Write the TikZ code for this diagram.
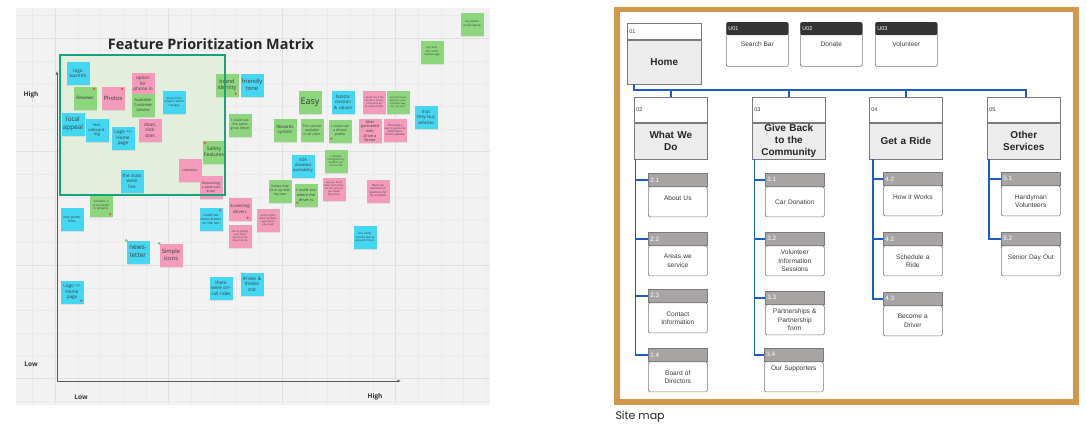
\documentclass[tikz,border=0pt]{standalone}
\usepackage{fontspec}
\setmainfont{Open Sans}
\newfontfamily\mapfont{Liberation Sans}
\newfontfamily\capfont{Poppins}
\usetikzlibrary{arrows.meta,shadows}

\definecolor{boardbg}{HTML}{F2F2F2}
\definecolor{gridminor}{HTML}{EAEAEA}
\definecolor{gridmajor}{HTML}{E0E0E0}
\definecolor{framegreen}{HTML}{17A37D}
\definecolor{framefill}{HTML}{E4EEDC}
\definecolor{stickyblue}{HTML}{45D6F2}
\definecolor{stickygreen}{HTML}{8ED67E}
\definecolor{stickypink}{HTML}{F49BBB}
\definecolor{dotred}{HTML}{F0463C}
\definecolor{dotgreen}{HTML}{7ACC6A}
\definecolor{maporange}{HTML}{D4974E}
\definecolor{mapblue}{HTML}{1C5CC4}
\definecolor{boxline}{HTML}{7A7A7A}
\definecolor{pagefill}{HTML}{ECECEC}
\definecolor{subhead}{HTML}{A9A4A4}
\definecolor{utilhead}{HTML}{333333}
\definecolor{inktext}{HTML}{3A3A3A}

\tikzset{
  note/.style={fill=#1, minimum width=23pt, minimum height=23pt, inner sep=1pt,
    text width=21pt, align=center, text=inktext,
    font=\fontsize{4.6}{5.4}\selectfont,
    drop shadow={opacity=.18, shadow xshift=.3pt, shadow yshift=-1pt}},
  bignote/.style={note=#1, font=\fontsize{6.4}{7.6}\selectfont},
  smallnote/.style={note=#1, font=\fontsize{3.4}{4.1}\selectfont},
  tinynote/.style={note=#1, font=\fontsize{2.5}{3.1}\selectfont},
  reddot/.style={fill=dotred},
  greendot/.style={fill=dotgreen},
  axis/.style={draw=black!65, line width=.8pt},
  axislabel/.style={font=\bfseries\fontsize{6.5}{7}\selectfont, text=black!80},
  pagehead/.style={anchor=north west, draw=boxline, fill=white, line width=.6pt,
    minimum width=#1, text width=#1-4pt, inner xsep=2pt, align=left,
    font=\mapfont\fontsize{5.5}{6}\selectfont, text=inktext},
  pagebody/.style={anchor=north, draw=boxline, fill=pagefill, line width=.6pt,
    minimum width=#1, text width=#1-4pt, inner xsep=2pt, align=center,
    font=\mapfont\bfseries\fontsize{10}{12.3}\selectfont, text=black!85},
  subhead/.style={anchor=north west, draw=boxline, fill=subhead, line width=.6pt,
    minimum width=59pt, minimum height=13pt, text width=55pt, inner xsep=2pt,
    align=left, font=\mapfont\fontsize{6.3}{7}\selectfont, text=white},
  subbody/.style={anchor=north, draw=boxline, fill=white, line width=.6pt,
    rounded corners=1.5pt, minimum width=59pt, minimum height=30pt,
    text width=55pt, inner xsep=2pt, align=center,
    font=\mapfont\fontsize{6.6}{8.3}\selectfont, text=inktext},
  utilbody/.style={anchor=north west, draw=boxline, fill=white, line width=.7pt,
    rounded corners=2pt, minimum width=62pt, minimum height=44pt,
    font=\mapfont\fontsize{6.6}{8}\selectfont, text=inktext},
  utilhead/.style={anchor=north, fill=utilhead, rounded corners=2pt,
    minimum width=62pt, minimum height=13pt, text width=58pt, inner xsep=2pt,
    align=left, font=\mapfont\fontsize{5.5}{6}\selectfont, text=white},
  bus/.style={draw=mapblue, line width=2.2pt},
  trunk/.style={draw=mapblue, line width=1.6pt},
}

\begin{document}
\begin{tikzpicture}[x=1pt, y=-1pt]
  \useasboundingbox (0,0) rectangle (1087,437);

  % Board and grid
  \fill[boardbg] (16,8) rectangle (490,405);
  \foreach \i in {0,...,20}
    \draw[gridminor, line width=.4pt] ({32.3+22.7*\i},8) -- ({32.3+22.7*\i},405);
  \foreach \i in {0,...,17}
    \draw[gridminor, line width=.4pt] (16,{15.3+22.7*\i}) -- (490,{15.3+22.7*\i});
  \foreach \x in {55,168.5,282,395.5}
    \draw[gridmajor, line width=.6pt] (\x,8) -- (\x,405);
  \foreach \y in {38,151.5,265,378.5}
    \draw[gridmajor, line width=.6pt] (16,\y) -- (490,\y);

  % Title
  \node[font=\bfseries\fontsize{14.4}{16}\selectfont, text=black!85] (title) at (211,44) {Feature Prioritization Matrix};

  % Axes
  \coordinate (o) at (57,381);
  \coordinate (ytop) at (57,71);
  \coordinate (xend) at (401,381);
  \draw[axis, -{Latex[length=3.5pt,width=3pt]}] (o) -- (ytop);
  \draw[axis, -{Latex[length=3.5pt,width=3pt]}] (o) -- (xend);
  \node[axislabel] (yhigh) at (31,95) {High};
  \node[axislabel] (ylow) at (31,364) {Low};
  \node[axislabel] (xlow) at (81,397) {Low};
  \node[axislabel] (xhigh) at (375,397) {High};

  % Priority frame
  \fill[framefill] (60,55) rectangle (225,195);

  % Sticky notes
  \node[note=stickyblue] (n1) at (78,73) {logo\\warmth};
  \node[note=stickygreen] (n2) at (85,98) {Reviews};
  \node[bignote=stickypink, font=\fontsize{5.8}{7}\selectfont] (n3) at (113,98) {Photos};
  \node[note=stickypink] (n4) at (143,84) {option\\for\\phone in};
  \node[note=stickygreen, font=\fontsize{4}{4.9}\selectfont] (n5) at (143,105) {Available\\Customer\\Service};
  \node[tinynote=stickyblue, font=\fontsize{2.9}{3.5}\selectfont] (n6) at (174,102) {issues from rotation whilst changes};
  \node[bignote=stickyblue] (n7) at (73,124) {local\\appeal};
  \node[note=stickyblue, font=\fontsize{4}{4.9}\selectfont] (n8) at (97,130) {less\\onboard-\\ing};
  \node[note=stickyblue] (n9) at (123,138) {Logo =>\\Home\\page};
  \node[note=stickypink] (n10) at (150,130) {clean,\\slick\\sites};
  \node[note=stickygreen, font=\fontsize{5.4}{6.6}\selectfont] (n11) at (227,85) {brand\\identity};
  \node[note=stickyblue, font=\fontsize{5.8}{7}\selectfont] (n12) at (252,85) {friendly\\tone};
  \node[smallnote=stickygreen] (n13) at (240,125) {I could see the same great driver};
  \node[note=stickygreen, font=\fontsize{5}{6.2}\selectfont] (n14) at (214,152) {Safety\\Features};
  \node[smallnote=stickypink] (n15) at (190,170) {retention};
  \node[smallnote=stickypink] (n16) at (211,187) {Requesting a particular driver};
  \node[note=stickyblue] (n17) at (132,181) {the stats\\were\\live};
  \node[tinynote=stickygreen, font=\fontsize{2.9}{3.5}\selectfont] (n18) at (101,205) {Schedule a drive weeks in advance};
  \node[smallnote=stickyblue] (n19) at (72,219) {user guidelines};
  \node[bignote=stickyblue] (n20) at (138,252) {news-\\letter};
  \node[bignote=stickypink, font=\fontsize{5.8}{7.2}\selectfont] (n21) at (171,255) {Simple\\icons};
  \node[note=stickyblue] (n22) at (72,292) {Logo =>\\Home\\page};
  \node[note=stickyblue] (n23) at (221,288) {there\\were on-\\call rides};
  \node[note=stickyblue] (n24) at (252,284) {\#rides \&\\\#miles\\stat};
  \node[smallnote=stickyblue] (n25) at (211,219) {could see more drivers on the site};
  \node[note=stickypink, font=\fontsize{4.3}{5.3}\selectfont] (n26) at (240,209) {Screening\\drivers};
  \node[tinynote=stickypink] (n27) at (240,236) {link at getting your base record of the drive history};
  \node[tinynote=stickypink] (n28) at (268,220) {as the region driver provides a get driver you need};
  \node[smallnote=stickygreen] (n29) at (280,191) {Values that fit in up with my own};
  \node[note=stickygreen, font=\fontsize{3.8}{4.7}\selectfont] (n30) at (306,195) {I could see where the driver is};
  \node[tinynote=stickypink] (n31) at (334,189) {see you could have full history on the services just when they drove};
  \node[tinynote=stickypink, font=\fontsize{2.8}{3.4}\selectfont] (n32) at (378,191) {Here's an overview of questions for my situation};
  \node[tinynote=stickyblue, font=\fontsize{2.9}{3.6}\selectfont] (n33) at (365,237) {the same service was at around hours};
  \node[note=stickyblue, font=\fontsize{4}{5}\selectfont] (n34) at (303,166) {ADA\\disabled\\availability};
  \node[tinynote=stickygreen, font=\fontsize{2.7}{3.3}\selectfont] (n35) at (336,161) {I already recognise my auntie's car on her list};
  \node[bignote=stickygreen, font=\fontsize{9}{10}\selectfont] (n36) at (310,102) {Easy};
  \node[note=stickyblue, font=\fontsize{4.4}{5.4}\selectfont] (n37) at (343,102) {holistic\\mission\\\& values};
  \node[tinynote=stickypink] (n38) at (374,102) {I could see if my auntie is being contacted by an actual driver};
  \node[tinynote=stickygreen] (n39) at (398,102) {see if it's been used in a sustainable way for my aunt};
  \node[note=stickyblue, font=\fontsize{4.4}{5.4}\selectfont] (n40) at (426,117) {that\\they buy\\vehicles};
  \node[note=stickygreen, font=\fontsize{4.4}{5.4}\selectfont] (n41) at (285,130) {Rewards\\system};
  \node[smallnote=stickygreen] (n42) at (312,130) {This service available in all cities};
  \node[smallnote=stickygreen] (n43) at (340,131) {I could see a drivers profile};
  \node[note=stickypink, font=\fontsize{3.8}{4.7}\selectfont] (n44) at (370,131) {Uber\\partnered\\with Drive a\\Senior};
  \node[tinynote=stickypink, font=\fontsize{2.7}{3.3}\selectfont] (n45) at (395,130) {There was a way to get more information on the website};
  \node[tinynote=stickygreen, font=\fontsize{2.9}{3.5}\selectfont] (n46) at (472,24) {my auntie could signup};
  \node[tinynote=stickygreen, font=\fontsize{2.9}{3.5}\selectfont] (n47) at (432,52) {my auntie could receive age};

  % Votes
  \fill[reddot] ([shift={(-2.5,2.5)}]n2.north east) circle (1.2pt);
  \fill[reddot] ([shift={(-2.5,2.5)}]n3.north east) circle (1.2pt);
  \fill[reddot] ([shift={(-3,-3)}]n11.south east) circle (1.2pt);
  \fill[reddot] ([shift={(2.5,2.5)}]n14.north west) circle (1.2pt);
  \fill[reddot] ([shift={(-2.5,-2.5)}]n18.south east) circle (1.2pt);
  \fill[reddot] ([shift={(-2.5,-3)}]n22.south east) circle (1.2pt);
  \fill[reddot] ([shift={(-2.5,3)}]n25.north east) circle (1.2pt);
  \fill[reddot] ([shift={(-4,-3)}]n26.south east) circle (1.2pt);
  \fill[reddot] ([shift={(3,-4)}]n30.south west) circle (1.2pt);
  \fill[reddot] ([shift={(3,-4)}]n43.south west) circle (1.2pt);
  \fill[greendot] (n20.north west) circle (1.5pt);
  \fill[greendot] (n21.north west) circle (1.5pt);

  \draw[framegreen, line width=2.8pt] (60,55) rectangle (225,195);

  % Site map
  \draw[maporange, line width=5.5pt] (617,9.5) rectangle (1076,402);

  % Home and utility pages
  \node[pagehead=74pt, minimum height=16pt] (homeh) at (627,23) {01};
  \node[pagebody=74pt, minimum height=44pt] (home) at (homeh.south) {Home};
  \node[utilbody] (u1b) at (726,22) {\\[5pt]Search Bar};
  \node[utilhead] (u1) at (u1b.north) {U01};
  \node[utilbody] (u2b) at (800,22) {\\[5pt]Donate};
  \node[utilhead] (u2) at (u2b.north) {U02};
  \node[utilbody] (u3b) at (875,22) {\\[10pt]Volunteer};
  \node[utilhead] (u3) at (u3b.north) {U03};

  % Sections
  \node[pagehead=73pt, minimum height=25pt] (s2h) at (634,97) {02};
  \node[pagebody=73pt, minimum height=36pt] (s2) at (s2h.south) {What We\\Do};
  \node[pagehead=73pt, minimum height=25pt] (s3h) at (752,97) {03};
  \node[pagebody=73pt, minimum height=36pt, inner ysep=0pt] (s3) at (s3h.south) {Give Back\\to the\\Community};
  \node[pagehead=73pt, minimum height=25pt] (s4h) at (869,97) {04};
  \node[pagebody=73pt, minimum height=36pt] (s4) at (s4h.south) {Get a Ride};
  \node[pagehead=73pt, minimum height=25pt] (s5h) at (987,97) {05};
  \node[pagebody=73pt, minimum height=36pt] (s5) at (s5h.south) {Other\\Services};

  % Sub pages
  \node[subhead] (p21) at (648,173) {2.1};
  \node[subbody] (b21) at (p21.south) {About Us\\~};
  \node[subhead] (p22) at (648,232) {2.2};
  \node[subbody] (b22) at (p22.south) {Areas we\\service};
  \node[subhead] (p23) at (648,289) {2.3};
  \node[subbody] (b23) at (p23.south) {Contact\\Information};
  \node[subhead] (p24) at (648,348) {2.4};
  \node[subbody] (b24) at (p24.south) {Board of\\Directors};

  \node[subhead] (p31) at (765,173) {3.1};
  \node[subbody] (b31) at (p31.south) {Car Donation};
  \node[subhead] (p32) at (765,232) {3.2};
  \node[subbody] (b32) at (p32.south) {Volunteer\\Information\\Sessions};
  \node[subhead] (p33) at (765,291) {3.3};
  \node[subbody] (b33) at (p33.south) {Partnerships \&\\Partnership\\form};
  \node[subhead] (p34) at (764,348) {3.4};
  \node[subbody] (b34) at (p34.south) {Our Supporters\\~\\~};

  \node[subhead] (p41) at (883,172) {4.2};
  \node[subbody] (b41) at (p41.south) {How it Works\\~};
  \node[subhead] (p42) at (883,232) {4.2};
  \node[subbody] (b42) at (p42.south) {Schedule a\\Ride};
  \node[subhead] (p43) at (883,292) {4.3};
  \node[subbody] (b43) at (p43.south) {Become a\\Driver};

  \node[subhead] (p51) at (1001,172) {5.1};
  \node[subbody] (b51) at (p51.south) {Handyman\\Volunteers};
  \node[subhead] (p52) at (1001,232) {5.2};
  \node[subbody] (b52) at (p52.south) {Senior Day Out\\~};

  % Connectors
  \coordinate (busl) at (634,90);
  \coordinate (busr) at (1026,90);
  \draw[bus] (home.south -| busl) -- (busl) -- (busr) -- (busr |- s5h.north);
  \foreach \s in {s2h,s3h,s4h}
    \draw[bus] (\s.north) -- (\s.north |- busl);
  \foreach \p in {p21,p22,p23,p24}
    \draw[trunk] (s2.south west) ++(1.5,0) |- (\p.west);
  \foreach \p in {p31,p32,p33,p34}
    \draw[trunk] (s3.south west) ++(2.5,0) |- (\p.west);
  \foreach \p in {p41,p42,p43}
    \draw[trunk] (s4.south west) ++(4,0) |- (\p.west);
  \foreach \p in {p51,p52}
    \draw[trunk] (s5.south west) ++(2,0) |- (\p.west);

  \node[anchor=west, font=\capfont\fontsize{11}{13}\selectfont, text=black!85] (cap) at (612,417) {Site map};
\end{tikzpicture}
\end{document}
